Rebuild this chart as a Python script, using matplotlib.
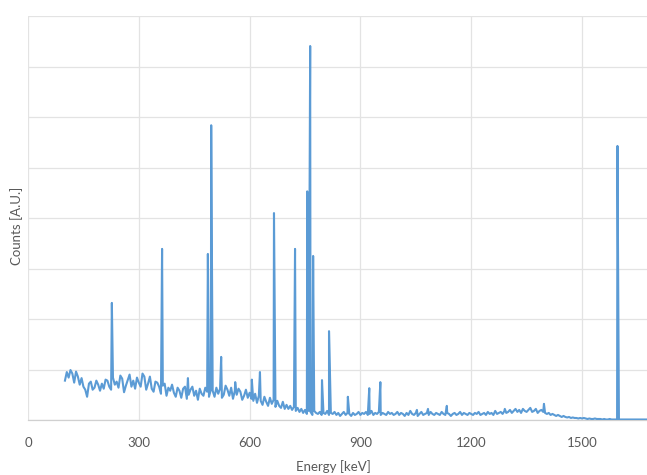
import numpy as np
import matplotlib
matplotlib.use('Agg')
import matplotlib.pyplot as plt

plt.rcParams['font.family'] = ['Lato', 'DejaVu Sans']

# baseline of the spectrum, one value every 5 keV from 100 keV (grid units)
base_start = 100
base_step = 5
baseline = [
    0.78, 0.95, 0.84, 0.99, 0.92, 0.74, 0.96, 0.86, 0.70, 0.83, 0.66, 0.60, 0.46, 0.72, 0.76, 0.60, 0.64, 0.78, 0.70, 0.58,
    0.72, 0.62, 0.80, 0.78, 0.66, 0.60, 0.84, 0.70, 0.76, 0.64, 0.88, 0.82, 0.55, 0.68, 0.79, 0.90, 0.66, 0.78, 0.62, 0.84,
    0.74, 0.66, 0.92, 0.86, 0.60, 0.72, 0.86, 0.62, 0.56, 0.76, 0.74, 0.66, 0.52, 0.68, 0.72, 0.48, 0.64, 0.58, 0.70, 0.54,
    0.46, 0.64, 0.58, 0.44, 0.62, 0.66, 0.42, 0.50, 0.60, 0.66, 0.48, 0.58, 0.40, 0.62, 0.52, 0.48, 0.64, 0.56, 0.46, 0.60,
    0.58, 0.46, 0.64, 0.52, 0.62, 0.44, 0.50, 0.68, 0.60, 0.48, 0.64, 0.42, 0.58, 0.50, 0.62, 0.56, 0.40, 0.48, 0.60, 0.44,
    0.54, 0.42, 0.38, 0.52, 0.34, 0.48, 0.38, 0.30, 0.46, 0.36, 0.28, 0.44, 0.32, 0.40, 0.26, 0.38, 0.28, 0.24, 0.36, 0.22,
    0.30, 0.22, 0.28, 0.20, 0.26, 0.18, 0.24, 0.16, 0.22, 0.14, 0.20, 0.12, 0.18, 0.16, 0.10, 0.18, 0.14, 0.12, 0.16, 0.10,
    0.14, 0.12, 0.18, 0.10, 0.14, 0.12, 0.16, 0.10, 0.14, 0.08, 0.12, 0.16, 0.10, 0.14, 0.12, 0.08, 0.14, 0.10, 0.12, 0.16,
    0.10, 0.14, 0.12, 0.16, 0.10, 0.12, 0.18, 0.10, 0.14, 0.12, 0.16, 0.10, 0.14, 0.12, 0.10, 0.16, 0.12, 0.14, 0.10, 0.12,
    0.16, 0.10, 0.14, 0.12, 0.08, 0.14, 0.10, 0.18, 0.12, 0.10, 0.14, 0.08, 0.12, 0.16, 0.10, 0.12, 0.14, 0.10, 0.16, 0.12,
    0.10, 0.14, 0.12, 0.10, 0.16, 0.12, 0.10, 0.14, 0.12, 0.08, 0.12, 0.14, 0.10, 0.12, 0.16, 0.10, 0.14, 0.12, 0.10, 0.14,
    0.12, 0.10, 0.14, 0.12, 0.16, 0.10, 0.12, 0.14, 0.10, 0.16, 0.12, 0.14, 0.10, 0.18, 0.12, 0.14, 0.16, 0.12, 0.18, 0.14,
    0.16, 0.20, 0.14, 0.18, 0.22, 0.16, 0.20, 0.14, 0.22, 0.18, 0.16, 0.20, 0.24, 0.16, 0.18, 0.22, 0.14, 0.18, 0.20, 0.16,
    0.14, 0.12, 0.14, 0.10, 0.12, 0.10, 0.08, 0.10, 0.08, 0.06, 0.08, 0.06, 0.05, 0.06, 0.04, 0.05, 0.04, 0.04, 0.03, 0.04,
    0.03, 0.04, 0.03, 0.02, 0.03, 0.02, 0.02, 0.03, 0.02, 0.02, 0.02, 0.01, 0.02, 0.01, 0.01, 0.02, 0.01, 0.01, 0.01, 0.01,
    0.01, 0.01, 0.01, 0.01, 0.01, 0.01, 0.01, 0.01, 0.01, 0.01, 0.01, 0.01, 0.01, 0.01, 0.01, 0.01,
]

# peaks (energy keV, height in grid units)
peak_energy = [227, 363, 433, 487, 496, 523, 561, 606, 628, 666, 723, 756, 764, 772, 796, 815,
               866, 924, 954, 1053, 1083, 1134, 1291, 1397, 1596]
peak_height = [2.32, 3.39, 0.83, 3.29, 5.84, 1.25, 0.75, 0.80, 0.95, 4.10, 3.39, 4.53, 7.41, 3.25, 0.79, 1.76,
               0.46, 0.63, 0.75, 0.20, 0.22, 0.28, 0.22, 0.32, 5.43]

x_ticks = [0, 300, 600, 900, 1200, 1500]

base_x = base_start + base_step * np.arange(len(baseline))
x = np.concatenate([base_x, peak_energy])
y = np.concatenate([baseline, peak_height])
order = np.argsort(x, kind='stable')
x = x[order]
y = y[order]

fig = plt.figure(figsize=(6.47, 4.75), dpi=100)
ax = fig.add_axes([0.0433, 0.1158, 0.9567, 0.850])

ax.plot(x, y, color='#5b9bd5', linewidth=1.5, zorder=3)

ax.set_xlim(0, 1676)
ax.set_ylim(0, 8)
ax.set_xticks(x_ticks)
ax.set_yticks(range(0, 9))
ax.set_yticklabels([])
ax.grid(True, color='#e3e3e3', linewidth=0.9, zorder=0)
ax.tick_params(length=0, labelsize=9.5, labelcolor='#595959', pad=12)
for s in ['top', 'right', 'left']:
    ax.spines[s].set_visible(False)
ax.spines['bottom'].set_color('#d0d0d0')
ax.spines['bottom'].set_linewidth(0.9)

fig.text(0.515, 0.004, 'Energy [keV]', ha='center', va='bottom', fontsize=9.5, color='#595959')
fig.text(0.026, 0.525, 'Counts [A.U.]', ha='center', va='center', rotation=90, fontsize=9.5, color='#595959')

fig.savefig('out.png', dpi=100)
